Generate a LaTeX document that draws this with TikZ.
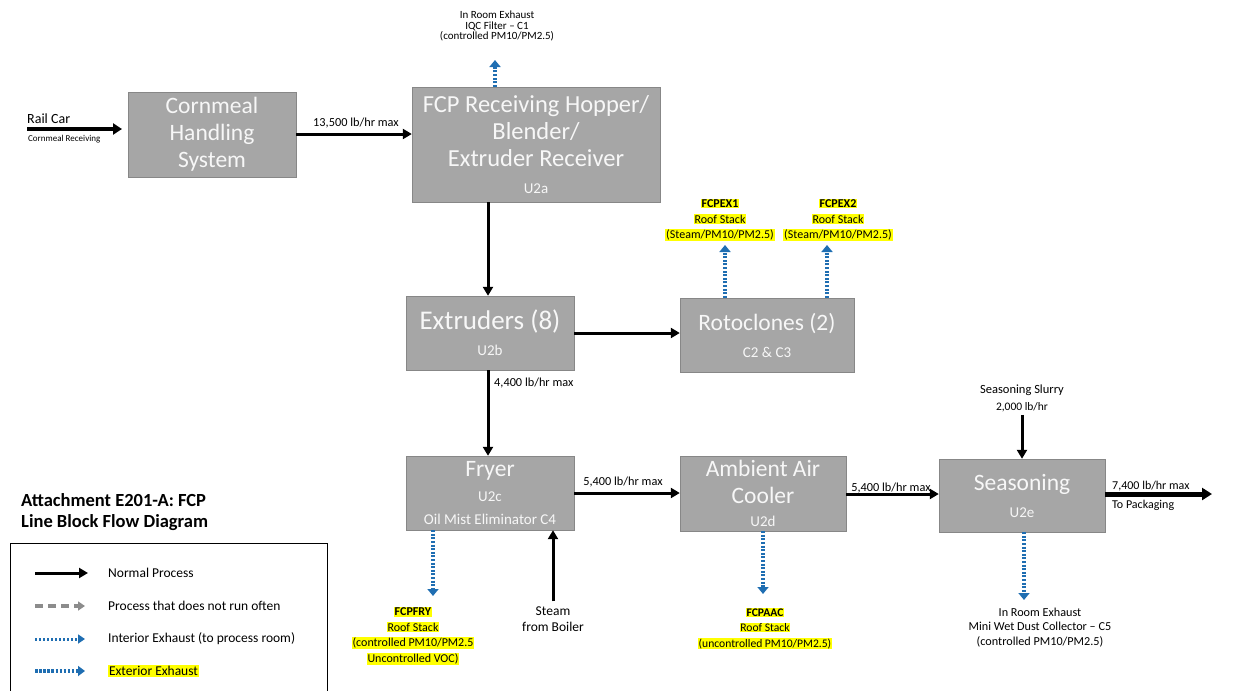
\documentclass[tikz,border=0pt]{standalone}
\usepackage{fontspec}
\setmainfont{Carlito}
\usetikzlibrary{arrows.meta,positioning}
\definecolor{unitgray}{RGB}{166,166,166}
\definecolor{unitedge}{RGB}{135,135,135}
\definecolor{exhaustblue}{RGB}{31,110,178}
\definecolor{stackyellow}{RGB}{255,255,0}
\definecolor{seldomgray}{RGB}{140,140,140}
\newcommand{\stackhl}[1]{\colorbox{stackyellow}{#1}}
\newcommand{\unitid}[1]{{\fontsize{15}{17}\selectfont #1}}
\setlength{\fboxsep}{0.8pt}

\tikzset{
  unitbox/.style={draw=unitedge, fill=unitgray, text=white!94!gray, align=center,
    inner sep=0pt, font=\fontsize{23.5}{27}\selectfont},
  flow/.style={line width=3pt, -{Triangle[length=9pt,width=10pt]}},
  exhaust/.style={line width=4pt, exhaustblue, dash pattern=on 2pt off 1.6pt,
    -{Triangle[length=7pt,width=11pt]}},
  rate/.style={font=\fontsize{12.3}{14}\selectfont, inner sep=0pt},
  stacklbl/.style={align=center, font=\fontsize{12}{15.5}\selectfont, inner sep=0pt},
  legendtxt/.style={font=\fontsize{13.5}{16}\selectfont, inner sep=0pt, anchor=west},
}

\begin{document}
\begin{tikzpicture}[x=1pt,y=-1pt]
\useasboundingbox (0,0) rectangle (1243,691);

% process units
\node[unitbox, minimum width=168pt, minimum height=85pt] (corn) at (212,134.5) {Cornmeal\\Handling\\System};
\node[unitbox, font=\fontsize{24.5}{27}\selectfont, minimum width=248pt, minimum height=115pt] (fcp) at (536,144.5)
  {FCP Receiving Hopper/\\Blender/\\Extruder Receiver\\\unitid{U2a}};
\node[unitbox, font=\fontsize{27}{29}\selectfont, minimum width=168pt, minimum height=74pt] (ext) at (490,333)
  {Extruders (8)\\[-3pt]\unitid{U2b}};
\node[unitbox, minimum width=174pt, minimum height=74pt] (roto) at (767,335) {Rotoclones (2)\\\unitid{C2 \& C3}};
\node[unitbox, minimum width=168pt, minimum height=74pt] (fry) at (490,493)
  {Fryer\\[-2pt]\unitid{U2c}\\[-4pt]\unitid{Oil Mist Eliminator C4}};
\node[unitbox, minimum width=166pt, minimum height=75pt] (amb) at (763,493.5) {Ambient Air\\Cooler\\[-4pt]\unitid{U2d}};
\node[unitbox, minimum width=166pt, minimum height=73pt] (seas) at (1022,495.5) {Seasoning\\\unitid{U2e}};

% inputs and outputs
\coordinate (railin) at (27,129);
\coordinate (railout) at (122,129);
\node[anchor=west, inner sep=0pt, font=\fontsize{14}{16}\selectfont] (rail) at (27,119) {Rail Car};
\node[anchor=west, inner sep=0pt, font=\fontsize{9}{10}\selectfont] (railsub) at (28,139) {Cornmeal Receiving};
\draw[line width=4pt, -{Triangle[length=9pt,width=11pt]}] (railin) -- (railout);

\draw[flow] (corn.east |- 0,134) -- (fcp.west |- 0,134);
\node[rate] (r13500) at (356,123) {13,500 lb/hr max};

\draw[flow] (fcp.south -| 488,0) -- (ext.north -| 488,0);
\draw[flow] (ext.east |- 0,333) -- (roto.west |- 0,333);
\draw[flow] (ext.south -| 488,0) -- (fry.north -| 488,0);
\node[rate, anchor=west] (r4400) at (494,383) {4,400 lb/hr max};

\draw[flow] (fry.east |- 0,493) -- (amb.west |- 0,493);
\node[rate] (r5400a) at (623,482) {5,400 lb/hr max};
\draw[flow] (amb.east |- 0,494) -- (seas.west |- 0,494);
\node[rate] (r5400b) at (891,488) {5,400 lb/hr max};

\node[stacklbl, font=\fontsize{12.5}{17}\selectfont] (slurry) at (1022,398) {Seasoning Slurry\\{\fontsize{11.5}{13}\selectfont 2,000 lb/hr}};
\draw[flow] (slurry.south -| seas.north) ++(0,3) -- (seas.north);

\coordinate (topack) at (1212,494);
\draw[line width=5pt, -{Triangle[length=10pt,width=12pt]}] (seas.east |- topack) -- (topack);
\node[rate, font=\fontsize{12}{14}\selectfont, anchor=west] (r7400) at (1112,486) {7,400 lb/hr max};
\node[rate, font=\fontsize{12}{14}\selectfont, anchor=west] (pack) at (1112,505) {To Packaging};

\node[stacklbl, font=\fontsize{13.5}{16}\selectfont] (steam) at (553,619) {Steam\\from Boiler};
\draw[flow] (steam.north) ++(0,-5) -- (steam.north |- fry.south);

% exhausts
\node[stacklbl, font=\fontsize{11}{10.5}\selectfont] (iqc) at (497,26)
  {In Room Exhaust\\IQC Filter -- C1\\(controlled PM10/PM2.5)};
\coordinate (iqcend) at (495,60);
\draw[exhaust] (fcp.north -| iqcend) -- (iqcend);

\node[stacklbl] (fcpex1) at (720,220)
  {\stackhl{\textbf{FCPEX1}}\\\stackhl{Roof Stack}\\\stackhl{(Steam/PM10/PM2.5)}};
\coordinate (ex1end) at (725,245);
\draw[exhaust] (roto.north -| ex1end) -- (ex1end);
\node[stacklbl] (fcpex2) at (838,220)
  {\stackhl{\textbf{FCPEX2}}\\\stackhl{Roof Stack}\\\stackhl{(Steam/PM10/PM2.5)}};
\coordinate (ex2end) at (827,245);
\draw[exhaust] (roto.north -| ex2end) -- (ex2end);

\node[stacklbl] (fcpfry) at (413,636)
  {\stackhl{\textbf{FCPFRY}}\\\stackhl{Roof Stack}\\\stackhl{(controlled PM10/PM2.5}\\\stackhl{Uncontrolled VOC)}};
\coordinate (fryend) at (433,596);
\draw[exhaust] (fry.south -| fryend) -- (fryend);

\node[stacklbl, font=\fontsize{11.6}{15.5}\selectfont] (fcpaac) at (765,628.5)
  {\stackhl{\textbf{FCPAAC}}\\\stackhl{Roof Stack}\\\stackhl{(uncontrolled PM10/PM2.5)}};
\coordinate (aacend) at (763,594);
\draw[exhaust] (amb.south -| aacend) -- (aacend);

\node[stacklbl, font=\fontsize{12.2}{14.5}\selectfont] (wetdust) at (1040,627.5)
  {In Room Exhaust\\Mini Wet Dust Collector -- C5\\(controlled PM10/PM2.5)};
\coordinate (wetend) at (1024,600);
\draw[exhaust] (seas.south -| wetend) -- (wetend);

% title and legend
\node[anchor=west, align=left, inner sep=0pt, font=\fontsize{18.5}{21}\selectfont\bfseries] (title) at (21,512)
  {Attachment E201-A: FCP\\Line Block Flow Diagram};
\node[draw, line width=0.8pt, anchor=north west, minimum width=317pt, minimum height=160pt, inner sep=0pt] (legend) at (10,543) {};

\coordinate (lg1a) at (35,573);  \coordinate (lg1b) at (88,573);
\coordinate (lg2a) at (35,606);  \coordinate (lg2b) at (85,606);
\coordinate (lg3a) at (35,639);  \coordinate (lg3b) at (85,639);
\coordinate (lg4a) at (35,671);  \coordinate (lg4b) at (85,671);
\draw[flow] (lg1a) -- (lg1b);
\draw[line width=3.5pt, seldomgray, dash pattern=on 8pt off 5pt, -{Triangle[length=7pt,width=9pt]}] (lg2a) -- (lg2b);
\draw[line width=3pt, exhaustblue, dash pattern=on 2pt off 2pt, -{Triangle[length=7pt,width=9pt]}] (lg3a) -- (lg3b);
\draw[line width=3.5pt, exhaustblue, dash pattern=on 2.5pt off 1.6pt, -{Triangle[length=7pt,width=10pt]}] (lg4a) -- (lg4b);
\node[legendtxt] (lgt1) at (108,573) {Normal Process};
\node[legendtxt] (lgt2) at (108,606) {Process that does not run often};
\node[legendtxt] (lgt3) at (108,639) {Interior Exhaust (to process room)};
\node[legendtxt] (lgt4) at (108,671) {\stackhl{Exterior Exhaust}};
\end{tikzpicture}
\end{document}
